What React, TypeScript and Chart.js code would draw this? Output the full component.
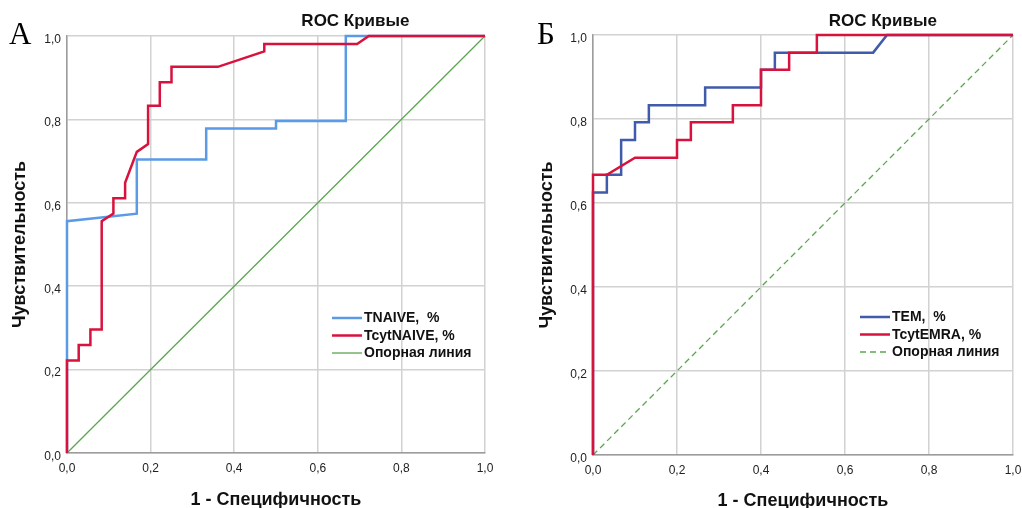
import { useEffect, useRef } from "react";
import { Chart, registerables } from "chart.js";

Chart.register(...registerables);

// ---- data ----
const tickValues = [0, 0.2, 0.4, 0.6, 0.8, 1.0];
const tickLabels = ["0,0", "0,2", "0,4", "0,6", "0,8", "1,0"];

const chartTitle = "ROC Кривые";
const xTitle = "1 - Специфичность";
const yTitle = "Чувствительность";

// Panel A
const tnaiveX = [0, 0, 0.167, 0.167, 0.333, 0.333, 0.5, 0.5, 0.667, 0.667, 1];
const tnaiveY = [0, 0.556, 0.574, 0.704, 0.704, 0.778, 0.778, 0.796, 0.796, 1, 1];

const tcytNaiveX = [0, 0, 0.028, 0.028, 0.056, 0.056, 0.083, 0.083, 0.111, 0.111, 0.139, 0.139, 0.167, 0.194, 0.194, 0.222, 0.222, 0.25, 0.25, 0.361, 0.472, 0.472, 0.694, 0.722, 1];
const tcytNaiveY = [0, 0.222, 0.222, 0.259, 0.259, 0.296, 0.296, 0.556, 0.574, 0.611, 0.611, 0.648, 0.722, 0.741, 0.833, 0.833, 0.889, 0.889, 0.926, 0.926, 0.963, 0.981, 0.981, 1, 1];

// Panel B
const temX = [0, 0, 0.033, 0.033, 0.067, 0.067, 0.1, 0.1, 0.133, 0.133, 0.267, 0.267, 0.4, 0.4, 0.433, 0.433, 0.667, 0.7, 1];
const temY = [0, 0.625, 0.625, 0.667, 0.667, 0.75, 0.75, 0.792, 0.792, 0.833, 0.833, 0.875, 0.875, 0.917, 0.917, 0.958, 0.958, 1, 1];

const tcytEmraX = [0, 0, 0.033, 0.1, 0.2, 0.2, 0.233, 0.233, 0.333, 0.333, 0.4, 0.4, 0.467, 0.467, 0.533, 0.533, 1];
const tcytEmraY = [0, 0.667, 0.667, 0.708, 0.708, 0.75, 0.75, 0.792, 0.792, 0.833, 0.833, 0.917, 0.917, 0.958, 0.958, 1, 1];

const refX = [0, 1];
const refY = [0, 1];

const panelALabels = ["TNAIVE,  %", "TcytNAIVE, %", "Опорная линия"];
const panelBLabels = ["TEM,  %", "TcytEMRA, %", "Опорная линия"];

// ---- styles ----
const FONT = "'Liberation Sans', Arial, sans-serif";
const RED = "#d8123c";
const BLUE_A = "#5b9be6";
const BLUE_B = "#3f5ba9";
const GREEN = "#5aa84e";
const GRID = "#d2d2d2";
const AXIS = "#9c9c9c";

type LegendItem = { label: string; color: string; width: number; dash: number[] };

function pts(xs: number[], ys: number[]) {
  return xs.map((x, i) => ({ x, y: ys[i] }));
}

function makeChart(
  canvas: HTMLCanvasElement,
  curve1: { label: string; xs: number[]; ys: number[]; color: string },
  curve2: { label: string; xs: number[]; ys: number[]; color: string },
  refLabel: string,
  refDash: number[],
  layout: { left: number; right: number; top: number; bottom: number; yTitlePad: number; xTitlePad: number },
) {
  const legendItems: LegendItem[] = [
    { label: curve1.label, color: curve1.color, width: 2.5, dash: [] },
    { label: curve2.label, color: curve2.color, width: 2.5, dash: [] },
    { label: refLabel, color: GREEN, width: 1.3, dash: refDash },
  ];

  const overlay = {
    id: "overlay",
    afterDraw(chart: any) {
      const { ctx, chartArea } = chart;
      ctx.save();
      // title
      ctx.fillStyle = "#111";
      ctx.font = `bold 17px ${FONT}`;
      ctx.textAlign = "center";
      ctx.textBaseline = "middle";
      ctx.fillText(chartTitle, chartArea.left + 0.69 * (chartArea.right - chartArea.left), 21);
      // legend
      const x0 = chartArea.right - 153;
      let y = chartArea.top + 282;
      ctx.font = `bold 14px ${FONT}`;
      ctx.textAlign = "left";
      for (const it of legendItems) {
        ctx.beginPath();
        ctx.strokeStyle = it.color;
        ctx.lineWidth = it.width;
        ctx.setLineDash(it.dash);
        ctx.moveTo(x0, y);
        ctx.lineTo(x0 + 30, y);
        ctx.stroke();
        ctx.setLineDash([]);
        ctx.fillStyle = "#111";
        ctx.fillText(it.label, x0 + 32, y + 0.5);
        y += 17.5;
      }
      ctx.restore();
    },
  };

  const tickCb = (v: any) => {
    const idx = tickValues.findIndex((t) => Math.abs(t - Number(v)) < 1e-6);
    return idx >= 0 ? tickLabels[idx] : "";
  };

  return new Chart(canvas, {
    type: "scatter",
    data: {
      datasets: [
        {
          label: curve1.label,
          data: pts(curve1.xs, curve1.ys),
          showLine: true,
          borderColor: curve1.color,
          backgroundColor: curve1.color,
          borderWidth: 2.5,
          pointRadius: 0,
          order: 1,
          clip: false as any,
        },
        {
          label: curve2.label,
          data: pts(curve2.xs, curve2.ys),
          showLine: true,
          borderColor: curve2.color,
          backgroundColor: curve2.color,
          borderWidth: 2.5,
          pointRadius: 0,
          order: 0,
          clip: false as any,
        },
        {
          label: refLabel,
          data: pts(refX, refY),
          showLine: true,
          borderColor: GREEN,
          backgroundColor: GREEN,
          borderWidth: 1.3,
          borderDash: refDash,
          pointRadius: 0,
          order: 2,
          clip: false as any,
        },
      ],
    },
    options: {
      responsive: false,
      animation: false,
      events: [],
      layout: { padding: { left: 0, right: layout.right, top: layout.top, bottom: 0 } },
      plugins: { legend: { display: false }, title: { display: false }, tooltip: { enabled: false } },
      scales: {
        x: {
          type: "linear",
          min: 0,
          max: 1,
          afterBuildTicks: (s: any) => {
            s.ticks = tickValues.map((v) => ({ value: v }));
          },
          afterFit: (s: any) => {
            s.height = layout.bottom;
            s.paddingLeft = 0;
            s.paddingRight = 0;
          },
          ticks: { callback: tickCb, color: "#222", font: { size: 12, family: FONT }, padding: 8, maxRotation: 0 },
          grid: { color: GRID, lineWidth: 1.5, drawTicks: false },
          border: { color: AXIS, width: 1.5 },
          title: {
            display: true,
            text: xTitle,
            color: "#111",
            font: { size: 18, weight: "bold", family: FONT },
            padding: { top: 0, bottom: layout.xTitlePad },
          },
        },
        y: {
          type: "linear",
          min: 0,
          max: 1,
          afterBuildTicks: (s: any) => {
            s.ticks = tickValues.map((v) => ({ value: v }));
          },
          afterFit: (s: any) => {
            s.width = layout.left;
            s.paddingTop = 0;
            s.paddingBottom = 0;
          },
          ticks: { callback: tickCb, color: "#222", font: { size: 12, family: FONT }, padding: 6, labelOffset: 3.5 },
          grid: { color: GRID, lineWidth: 1.5, drawTicks: false },
          border: { color: AXIS, width: 1.5 },
          title: {
            display: true,
            text: yTitle,
            color: "#111",
            font: { size: 18, weight: "bold", family: FONT },
            padding: { top: layout.yTitlePad, bottom: 0 },
          },
        },
      },
    },
    plugins: [overlay],
  } as any);
}

export default function App() {
  const refA = useRef<HTMLCanvasElement>(null);
  const refB = useRef<HTMLCanvasElement>(null);

  useEffect(() => {
    const a = makeChart(
      refA.current!,
      { label: panelALabels[0], xs: tnaiveX, ys: tnaiveY, color: BLUE_A },
      { label: panelALabels[1], xs: tcytNaiveX, ys: tcytNaiveY, color: RED },
      panelALabels[2],
      [],
      { left: 67, right: 26, top: 36, bottom: 55, yTitlePad: 9, xTitlePad: -3 },
    );
    const b = makeChart(
      refB.current!,
      { label: panelBLabels[0], xs: temX, ys: temY, color: BLUE_B },
      { label: panelBLabels[1], xs: tcytEmraX, ys: tcytEmraY, color: RED },
      panelBLabels[2],
      [6, 4],
      { left: 82, right: 9, top: 35, bottom: 53, yTitlePad: 25, xTitlePad: -4 },
    );
    return () => {
      a.destroy();
      b.destroy();
    };
  }, []);

  const letter: React.CSSProperties = {
    position: "absolute",
    top: 16,
    fontFamily: "'Liberation Serif', 'Times New Roman', serif",
    fontSize: 31,
    lineHeight: "36px",
    color: "#000",
  };

  return (
    <div style={{ position: "absolute", left: 0, top: 0, width: 1022, height: 508, background: "#fff", overflow: "hidden" }}>
      <canvas ref={refA} width={511} height={508} style={{ position: "absolute", left: 0, top: 0 }} />
      <canvas ref={refB} width={511} height={508} style={{ position: "absolute", left: 511, top: 0 }} />
      <div style={{ ...letter, left: 9 }}>А</div>
      <div style={{ ...letter, left: 537 }}>Б</div>
    </div>
  );
}
